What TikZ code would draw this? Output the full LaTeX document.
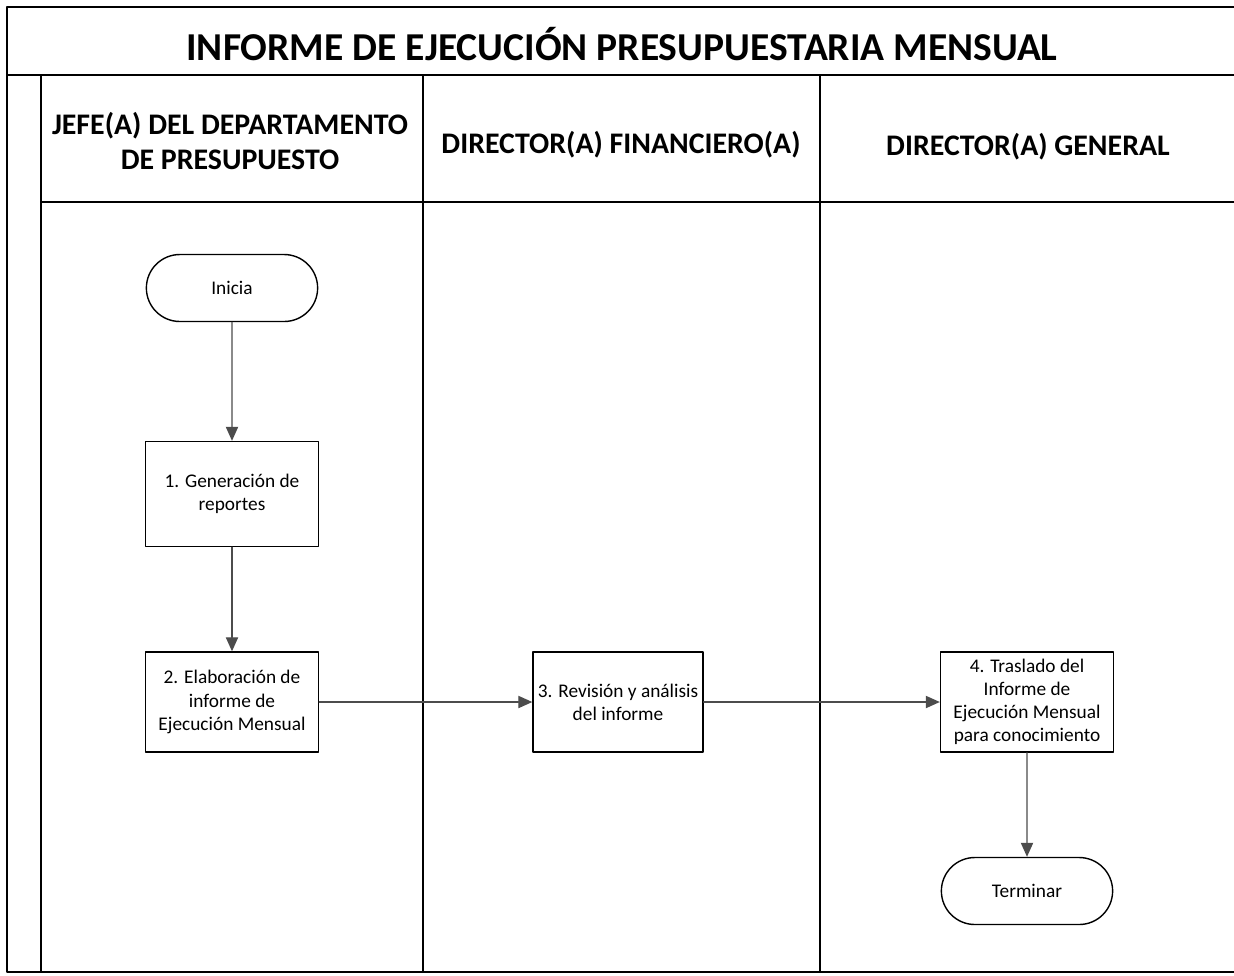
\documentclass[tikz,border=0pt]{standalone}
\usepackage{fontspec}
\setmainfont{Carlito}
\usetikzlibrary{arrows.meta,shapes.misc}

\begin{document}
\begin{tikzpicture}[x=0.02cm,y=-0.02cm,line cap=round,line join=round,
  lane/.style={line width=0.9pt},
  stepbox/.style={draw,line width=0.8pt,minimum width=3.46cm,minimum height=2cm,
    align=center,inner sep=2pt,font=\fontsize{11}{13.2}\selectfont},
  termbox/.style={draw,rounded rectangle,line width=0.8pt,minimum width=3.66cm,
    minimum height=1.34cm,font=\fontsize{11}{13.2}\selectfont},
  flow/.style={draw=black!70,line width=0.7pt,-{Triangle[length=8pt,width=7pt]}},
  lanetitle/.style={align=center,font=\fontsize{17}{19.5}\selectfont\bfseries}]
  \useasboundingbox (0,0) rectangle (1234,975);
  % marco y carriles
  \draw[line width=1.2pt] (1234,7) -- (7,7) -- (7,972) -- (1234,972);
  \draw[lane] (7,75) -- (1234,75);
  \draw[lane] (41,75) -- (41,972);
  \draw[lane] (41,202) -- (1234,202);
  \draw[lane] (423,75) -- (423,972);
  \draw[lane] (820,75) -- (820,972);
  \node[font=\fontsize{22.5}{26}\selectfont\bfseries] (titulo) at (622,44) {INFORME DE EJECUCIÓN PRESUPUESTARIA MENSUAL};
  \node[lanetitle] (jefe) at (230,141) {JEFE(A) DEL DEPARTAMENTO\\DE PRESUPUESTO};
  \node[lanetitle] (dirfin) at (621,145) {DIRECTOR(A) FINANCIERO(A)};
  \node[lanetitle] (dirgen) at (1028,147) {DIRECTOR(A) GENERAL};
  % pasos
  \node[termbox] (inicia) at (232,288) {Inicia};
  \node[stepbox,minimum height=2.1cm] (gen) at (232,494) {1. Generación de\\reportes};
  \node[stepbox] (elab) at (232,702) {2. Elaboración de\\informe de\\Ejecución Mensual};
  \node[stepbox,minimum width=3.4cm] (rev) at (618,702) {3. Revisión y análisis\\del informe};
  \node[stepbox] (tras) at (1027,702) {4. Traslado del\\Informe de\\Ejecución Mensual\\para conocimiento};
  \node[termbox] (fin) at (1027,891) {Terminar};
  % flechas
  \draw[flow] (inicia) -- (gen);
  \draw[flow] (gen) -- (elab);
  \draw[flow] (elab) -- (rev);
  \draw[flow] (rev) -- (tras);
  \draw[flow] (tras) -- (fin);
\end{tikzpicture}
\end{document}
